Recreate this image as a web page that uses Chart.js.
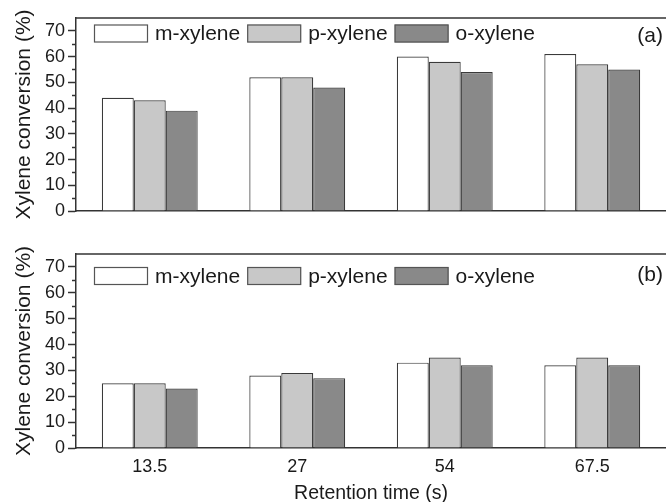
<!DOCTYPE html>
<html>
<head>
<meta charset="utf-8">
<script src="https://cdn.jsdelivr.net/npm/chart.js@4.4.0/dist/chart.umd.min.js"></script>
<style>
  html, body { margin: 0; padding: 0; background: #fff; }
  #wrap { position: relative; width: 666px; height: 502px; }
  .panel { position: absolute; left: 0; width: 666px; }
  #pa { top: 0; height: 225px; }
  #pb { top: 230px; height: 272px; }
</style>
</head>
<body>
<div id="wrap">
  <div class="panel" id="pa"><canvas id="chartA"></canvas></div>
  <div class="panel" id="pb"><canvas id="chartB"></canvas></div>
</div>
<script>
const retentionTimes = ['13.5', '27', '54', '67.5'];
const seriesNames = ['m-xylene', 'p-xylene', 'o-xylene'];
const seriesColors = ['#ffffff', '#c8c8c8', '#898989'];
const yTickValues = [0, 10, 20, 30, 40, 50, 60, 70];

// panel (a)
const mXyleneA = [44, 52, 60, 61];
const pXyleneA = [43, 52, 58, 57];
const oXyleneA = [39, 48, 54, 55];
// panel (b)
const mXyleneB = [25, 28, 33, 32];
const pXyleneB = [25, 29, 35, 35];
const oXyleneB = [23, 27, 32, 32];

const FONT = 'Liberation Sans, Arial, sans-serif';
const INK = '#333';
const TEXT = '#1a1a1a';

// top frame line, minor ticks, in-plot legend and panel letter
const decorPlugin = {
    id: 'decor',
    afterDraw(chart, args, opts) {
        const { ctx, chartArea } = chart;
        const y = chart.scales.y;
        ctx.save();
        ctx.strokeStyle = INK;
        ctx.lineWidth = 1.5;
        ctx.beginPath();
        ctx.moveTo(chartArea.left, chartArea.top);
        ctx.lineTo(chartArea.right + 4, chartArea.top);
        ctx.stroke();

        for (let v = 5; v < 75; v += 10) {
            const py = Math.round(y.getPixelForValue(v)) + 0.5;
            ctx.beginPath();
            ctx.moveTo(chartArea.left - 4, py);
            ctx.lineTo(chartArea.left, py);
            ctx.stroke();
        }

        // legend
        ctx.font = '21px ' + FONT;
        ctx.textBaseline = 'middle';
        ctx.textAlign = 'left';
        let x = chartArea.left + 18;
        const cy = chartArea.top + opts.legendY;
        chart.data.datasets.forEach(ds => {
            ctx.fillStyle = ds.backgroundColor;
            ctx.fillRect(x, cy - 9, 54, 18);
            ctx.strokeStyle = '#555';
            ctx.lineWidth = 1.2;
            ctx.strokeRect(x + 0.5, cy - 9 + 0.5, 53, 17);
            ctx.fillStyle = TEXT;
            ctx.fillText(ds.label, x + 61, cy + 1);
            x += 61 + ctx.measureText(ds.label).width + 7;
        });

        ctx.textAlign = 'right';
        ctx.fillText(opts.letter, chartArea.right - 3, chartArea.top + opts.letterY);
        ctx.restore();
    }
};

function makeChart(id, m, p, o, withX, letter, legendY, letterY) {
    return new Chart(document.getElementById(id), {
        type: 'bar',
        data: {
            labels: retentionTimes,
            datasets: [m, p, o].map((vals, i) => ({
                label: seriesNames[i],
                data: vals,
                backgroundColor: seriesColors[i],
                borderColor: '#3a3a3a',
                borderWidth: 1.2,
                borderSkipped: 'bottom',
                barPercentage: 1,
                categoryPercentage: 0.65
            }))
        },
        options: {
            responsive: true,
            maintainAspectRatio: false,
            animation: false,
            layout: { padding: withX ? { top: 24, right: 0, bottom: 0, left: 0 } : { top: 18, right: 0, bottom: 14, left: 0 } },
            plugins: {
                legend: { display: false },
                tooltip: { enabled: false },
                decor: { letter, legendY, letterY }
            },
            scales: {
                x: {
                    grid: { display: false },
                    border: { display: true, color: INK, width: 1.5 },
                    ticks: { display: withX, color: TEXT, font: { family: FONT, size: 18 }, padding: 0 },
                    title: {
                        display: withX,
                        text: 'Retention time (s)',
                        color: TEXT,
                        font: { family: FONT, size: 19.5 },
                        padding: { top: 0, bottom: -3 }
                    },
                    afterFit(scale) { scale.height = withX ? 54 : 0; }
                },
                y: {
                    min: 0,
                    max: 75,
                    ticks: { color: TEXT, font: { family: FONT, size: 18 }, padding: 3 },
                    afterBuildTicks(scale) { scale.ticks = yTickValues.map(v => ({ value: v })); },
                    grid: { drawOnChartArea: false, drawTicks: true, tickLength: 8, tickColor: INK, tickWidth: 1.5 },
                    border: { display: true, color: INK, width: 1.5 },
                    title: {
                        display: true,
                        text: 'Xylene conversion (%)',
                        color: TEXT,
                        font: { family: FONT, size: 21 },
                        padding: { top: 12, bottom: 0 }
                    },
                    afterFit(scale) { scale.width = 76; }
                }
            }
        },
        plugins: [decorPlugin]
    });
}

makeChart('chartA', mXyleneA, pXyleneA, oXyleneA, false, '(a)', 15.5, 18);
makeChart('chartB', mXyleneB, pXyleneB, oXyleneB, true, '(b)', 22, 21);
</script>
</body>
</html>
